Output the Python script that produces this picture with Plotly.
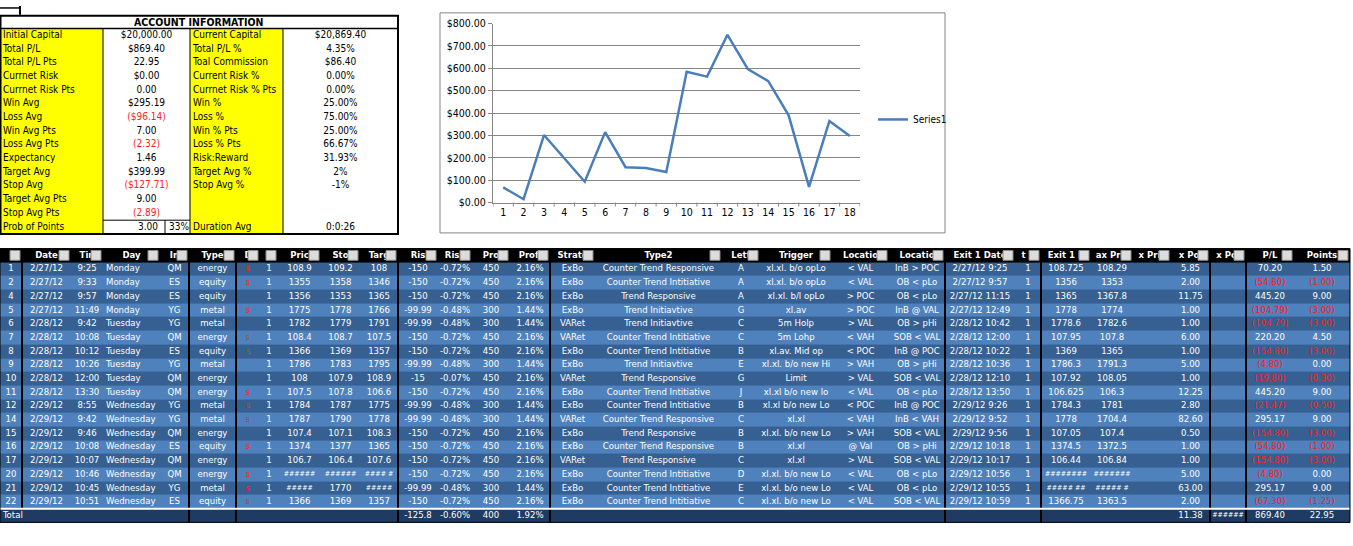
import plotly.graph_objects as go

W, H = 1353, 546
def px(x): return x / W
def py(y): return 1 - y / H

FONT = "DejaVu Sans Condensed, Liberation Sans Narrow, Liberation Sans, Arial"

# ---------------- account info data ----------------
acc_labels1 = ["Initial Capital", "Total P/L", "Total P/L Pts", "Currnet Risk", "Currnet Risk Pts",
               "Win Avg", "Loss Avg", "Win Avg Pts", "Loss Avg Pts", "Expectancy", "Target Avg",
               "Stop Avg", "Target Avg Pts", "Stop Avg Pts", "Prob of Points"]
acc_values1 = ["$20,000.00", "$869.40", "22.95", "$0.00", "0.00", "$295.19", "($96.14)", "7.00",
               "(2.32)", "1.46", "$399.99", "($127.71)", "9.00", "(2.89)", "3.00"]
acc_labels2 = ["Current Capital", "Total P/L %", "Toal Commission", "Current Risk %", "Currnet Risk % Pts",
               "Win %", "Loss %", "Win % Pts", "Loss % Pts", "Risk:Reward", "Target Avg %",
               "Stop Avg %", "", "", "Duration Avg"]
acc_values2 = ["$20,869.40", "4.35%", "$86.40", "0.00%", "0.00%", "25.00%", "75.00%", "25.00%",
               "66.67%", "31.93%", "2%", "-1%", "", "", "0:0:26"]
prob_pct = "33%"

# ---------------- chart data ----------------
chart_x = list(range(1, 19))
chart_y = [68, 15, 302, 198, 93, 315, 158, 155, 137, 585, 563, 750, 597, 543, 390, 70, 365, 298]

# ---------------- trade table data ----------------
headers = ["", "Date", "Tin", "Day", "In", "Type", "D", "C", "Pric", "Sto", "Targ", "Ris", "Risk", "Pro",
           "Profi", "Strate", "Type2", "Lett", "Trigger", "Locatio", "Locatio", "Exit 1 Date", "t 1",
           "Exit 1 P", "ax Pric", "x Pric", "x Poi", "x Poi", "P/L", "Points"]

ids = ["1", "2", "4", "5", "6", "7", "8", "9", "10", "11", "12", "14", "15", "16", "17", "20", "21", "22"]
dates = ["2/27/12"]*4 + ["2/28/12"]*6 + ["2/29/12"]*8
times = ["9:25", "9:33", "9:57", "11:49", "9:42", "10:08", "10:12", "10:26", "12:00", "13:30", "8:55",
         "9:42", "9:46", "10:08", "10:07", "10:46", "10:45", "10:51"]
days = ["Monday"]*4 + ["Tuesday"]*6 + ["Wednesday"]*8
ins = ["QM", "ES", "ES", "YG", "YG", "QM", "ES", "YG", "QM", "QM", "YG", "YG", "QM", "ES", "QM", "QM", "YG", "ES"]
types = ["energy", "equity", "equity", "metal", "metal", "energy", "equity", "metal", "energy", "energy",
         "metal", "metal", "energy", "equity", "energy", "energy", "metal", "equity"]
dirs = ["s", "s", "", "s", "", "s", "s", "", "", "s", "s", "s", "", "s", "", "s", "s", "s"]
contracts = ["1"]*18
prices = ["108.9", "1355", "1356", "1775", "1782", "108.4", "1366", "1786", "108", "107.5", "1784", "1787",
          "107.4", "1374", "106.7", "######", "#####", "1366"]
stops = ["109.2", "1358", "1353", "1778", "1779", "108.7", "1369", "1783", "107.9", "107.8", "1787", "1790",
         "107.1", "1377", "106.4", "######", "1770", "1369"]
targets = ["108", "1346", "1365", "1766", "1791", "107.5", "1357", "1795", "108.9", "106.6", "1775", "1778",
           "108.3", "1365", "107.6", "#### #", "#####", "1357"]
risks = ["-150", "-150", "-150", "-99.99", "-99.99", "-150", "-150", "-99.99", "-15", "-150", "-99.99",
         "-99.99", "-150", "-150", "-150", "-150", "-99.99", "-150"]
risk_pct = ["-0.72%", "-0.72%", "-0.72%", "-0.48%", "-0.48%", "-0.72%", "-0.72%", "-0.48%", "-0.07%",
            "-0.72%", "-0.48%", "-0.48%", "-0.72%", "-0.72%", "-0.72%", "-0.72%", "-0.48%", "-0.72%"]
profits = ["450", "450", "450", "300", "300", "450", "450", "300", "450", "450", "300", "300", "450", "450",
           "450", "450", "300", "450"]
profit_pct = ["2.16%", "2.16%", "2.16%", "1.44%", "1.44%", "2.16%", "2.16%", "1.44%", "2.16%", "2.16%",
              "1.44%", "1.44%", "2.16%", "2.16%", "2.16%", "2.16%", "1.44%", "2.16%"]
strategies = ["ExBo", "ExBo", "ExBo", "ExBo", "VARet", "VARet", "ExBo", "ExBo", "VARet", "ExBo", "ExBo",
              "VARet", "ExBo", "ExBo", "VARet", "ExBo", "ExBo", "ExBo"]
type2 = ["Counter Trend Responsive", "Counter Trend Intitiative", "Trend Responsive", "Trend Initiavtive",
         "Trend Initiavtive", "Counter Trend Intitiative", "Counter Trend Intitiative", "Trend Initiavtive",
         "Trend Responsive", "Counter Trend Intitiative", "Counter Trend Intitiative", "Counter Trend Responsive",
         "Trend Responsive", "Counter Trend Responsive", "Trend Responsive", "Counter Trend Intitiative",
         "Counter Trend Intitiative", "Counter Trend Intitiative"]
letters = ["A", "A", "A", "G", "C", "C", "B", "E", "G", "J", "B", "C", "B", "B", "C", "D", "E", "C"]
triggers = ["xl.xl. b/o opLo", "xl.xl. b/o opLo", "xl.xl. b/l opLo", "xl.av", "5m Holp", "5m Lohp",
            "xl.av. Mid op", "xl.xl. b/o new Hi", "Limit", "xl.xl b/o new lo", "xl.xl b/o new Lo", "xl.xl",
            "xl.xl. b/o new Lo", "xl.xl", "xl.xl", "xl.xl. b/o new Lo", "xl.xl. b/o new Lo", "xl.xl. b/o new Lo"]
loc1 = ["< VAL", "< VAL", "> POC", "> POC", "> VAL", "< VAH", "< POC", "> VAH", "> VAL", "< VAL", "< POC",
        "< VAH", "> VAH", "@ Val", "> VAL", "< VAL", "< VAL", "< VAL"]
loc2 = ["InB > POC", "OB < pLo", "OB < pLo", "InB @ VAL", "OB > pHi", "SOB < VAL", "InB @ POC", "OB > pHi",
        "SOB < VAL", "OB < pLo", "InB @ POC", "InB < VAH", "SOB < VAL", "OB > pHi", "SOB < VAL", "OB < pLo",
        "OB < pLo", "SOB < VAL"]
exit_dates = ["2/27/12 9:25", "2/27/12 9:57", "2/27/12 11:15", "2/27/12 12:49", "2/28/12 10:42",
              "2/28/12 12:00", "2/28/12 10:22", "2/28/12 10:36", "2/28/12 12:10", "2/28/12 13:50",
              "2/29/12 9:26", "2/29/12 9:52", "2/29/12 9:56", "2/29/12 10:18", "2/29/12 10:17",
              "2/29/12 10:56", "2/29/12 10:55", "2/29/12 10:59"]
exit_qty = ["1"]*18
exit_prices = ["108.725", "1356", "1365", "1778", "1778.6", "107.95", "1369", "1786.3", "107.92", "106.625",
               "1784.3", "1778", "107.05", "1374.5", "106.44", "########", "##### ##", "1366.75"]
max_prices = ["108.29", "1353", "1367.8", "1774", "1782.6", "107.8", "1365", "1791.3", "108.05", "106.3",
              "1781", "1704.4", "107.4", "1372.5", "106.84", "#######", "##### #", "1363.5"]
x_prices = [""]*18
max_points = ["5.85", "2.00", "11.75", "1.00", "1.00", "6.00", "1.00", "5.00", "1.00", "12.25", "2.80",
              "82.60", "0.50", "1.00", "1.00", "5.00", "63.00", "2.00"]
x_points = [""]*18
pl = ["70.20", "(54.80)", "445.20", "(104.79)", "(104.79)", "220.20", "(154.80)", "(4.80)", "(19.80)",
      "445.20", "(21.47)", "295.17", "(154.80)", "(54.80)", "(154.80)", "(4.80)", "295.17", "(67.30)"]
points = ["1.50", "(1.00)", "9.00", "(3.00)", "(3.00)", "4.50", "(3.00)", "0.00", "(0.30)", "9.00", "(0.50)",
          "9.00", "(3.00)", "(1.00)", "(3.00)", "0.00", "9.00", "(1.25)"]
total_row = ["Total", "", "", "", "", "", "", "", "", "", "", "-125.8", "-0.60%", "400", "1.92%", "", "", "",
             "", "", "", "", "", "", "", "", "11.38", "######", "869.40", "22.95"]

columns = [ids, dates, times, days, ins, types, dirs, contracts, prices, stops, targets, risks, risk_pct,
           profits, profit_pct, strategies, type2, letters, triggers, loc1, loc2, exit_dates, exit_qty,
           exit_prices, max_prices, x_prices, max_points, x_points, pl, points]

# ---------------- layout geometry (pixels) ----------------
col_w = [22, 49, 32, 57, 29, 47, 24, 18, 43, 39, 38, 40, 34, 38, 40, 45, 127, 38, 72, 57, 56, 70, 26, 50,
         42, 38, 39, 36, 48, 56]
TX0, TX1 = 0, 1350
scale = (TX1 - TX0) / sum(col_w)
edges = [TX0]
for w in col_w:
    edges.append(edges[-1] + w * scale)
centers = [(edges[i] + edges[i + 1]) / 2 for i in range(len(col_w))]
ROW_H = 14
TY0 = 248
n = len(ids)
nrows = n + 2
y_edges = [TY0 + ROW_H * k for k in range(nrows + 1)]
y_mid = [(y_edges[k] + y_edges[k + 1]) / 2 for k in range(nrows)]

acc_w = [103, 87, 93, 115]
acc_edges = [0]
for w in acc_w:
    acc_edges.append(acc_edges[-1] + w)
AY0 = 23
acc_rows = len(acc_labels1)
acc_y_edges = [AY0 + 14 * k for k in range(acc_rows + 1)]
acc_y_mid = [(acc_y_edges[k] + acc_y_edges[k + 1]) / 2 for k in range(acc_rows)]

palette = ["#000000", "#366092", "#4f81bd", "#1f3b61", "#ffff00", "#ffffff"]
cscale = []
for i, c in enumerate(palette):
    cscale.append([i / len(palette), c])
    cscale.append([(i + 1) / len(palette), c])

z_main = [[0] * len(col_w)]
for i in range(n):
    z_main.append([1 if i % 2 == 0 else 2] * len(col_w))
z_main.append([3] * len(col_w))
z_acc = [[4, 5, 4, 5] for _ in range(acc_rows)]

fig = go.Figure()
fig.add_trace(go.Heatmap(x=edges, y=y_edges, z=z_main, zmin=-0.5, zmax=5.5, colorscale=cscale,
                         showscale=False, hoverinfo="skip", xaxis="x2", yaxis="y2"))
fig.add_trace(go.Heatmap(x=acc_edges, y=acc_y_edges, z=z_acc, zmin=-0.5, zmax=5.5, colorscale=cscale,
                         showscale=False, hoverinfo="skip", xaxis="x2", yaxis="y2"))

tx, ty, tt, tc, tpos, tsz = [], [], [], [], [], []
for ci, col in enumerate(columns):
    vals = [headers[ci]] + list(col) + [total_row[ci]]
    for ri, v in enumerate(vals):
        if v == "":
            continue
        if ri == 0:
            txt = "<b>%s</b>" % v
            color = "white"
        else:
            txt = v
            if ci == 6 and v == "s":
                color = "#ff2020"
            elif ci in (28, 29) and v.startswith("("):
                color = "#ff1a1a"
            else:
                color = "white"
        if (ci == 3 and 0 < ri) or (ci == 0 and ri == nrows - 1):
            tx.append(edges[ci] + 3); tpos.append("middle right")
        else:
            tx.append(centers[ci]); tpos.append("middle center")
        ty.append(y_mid[ri]); tt.append(txt); tc.append(color)
        tsz.append(7 if "#" in v else 9.5)
for pos in ["middle right", "middle center"]:
    idx = [i for i in range(len(tt)) if tpos[i] == pos]
    fig.add_trace(go.Scatter(x=[tx[i] for i in idx], y=[ty[i] for i in idx], text=[tt[i] for i in idx],
                             mode="text", textposition=pos, hoverinfo="skip", showlegend=False,
                             textfont=dict(color=[tc[i] for i in idx], size=[tsz[i] for i in idx],
                                           family=FONT),
                             xaxis="x2", yaxis="y2", cliponaxis=False))

ax_, ay_, at_, ac_, ap_ = [], [], [], [], []
for ci, col in enumerate([acc_labels1, acc_values1, acc_labels2, acc_values2]):
    for ri, v in enumerate(col):
        if v == "":
            continue
        left = ci in (0, 2)
        if ci == 1 and ri == acc_rows - 1:
            xx = 148
        else:
            xx = acc_edges[ci] + 3 if left else (acc_edges[ci] + acc_edges[ci + 1]) / 2
        ax_.append(xx); ay_.append(acc_y_mid[ri]); at_.append(v)
        ac_.append("#ff2020" if v.startswith("(") else "black")
        ap_.append("middle right" if left else "middle center")
ax_.append(179); ay_.append(acc_y_mid[-1]); at_.append(prob_pct); ac_.append("black"); ap_.append("middle center")
for pos in ["middle right", "middle center"]:
    idx = [i for i in range(len(at_)) if ap_[i] == pos]
    fig.add_trace(go.Scatter(x=[ax_[i] for i in idx], y=[ay_[i] for i in idx], text=[at_[i] for i in idx],
                             mode="text", textposition=pos, hoverinfo="skip", showlegend=False,
                             textfont=dict(color=[ac_[i] for i in idx], size=10, family=FONT),
                             xaxis="x2", yaxis="y2", cliponaxis=False))

fig.add_trace(go.Scatter(x=chart_x, y=chart_y, mode="lines", name="Series1",
                         line=dict(color="#4a7ebb", width=2.5)))

fig.update_layout(
    width=W, height=H, margin=dict(l=0, r=0, t=0, b=0),
    paper_bgcolor="white", plot_bgcolor="rgba(0,0,0,0)",
    font=dict(family=FONT, size=10, color="black"),
    showlegend=True, hovermode=False,
    legend=dict(x=px(873), y=py(116), xanchor="left", yanchor="middle", bgcolor="rgba(0,0,0,0)",
                font=dict(size=10, family=FONT)),
    xaxis=dict(domain=[px(493), px(860)], range=[0.5, 18.5], tickmode="array", tickvals=chart_x,
               ticktext=[str(v) for v in chart_x], showgrid=False, zeroline=False,
               showline=True, linecolor="#868686", ticks="", tickfont=dict(size=10.5),
               fixedrange=True),
    yaxis=dict(domain=[py(201), py(18)], range=[0, 800], dtick=100, tickprefix="$", tickformat=",.2f",
               showgrid=True, gridcolor="#868686", gridwidth=1, zeroline=False, showline=True,
               linecolor="#868686", ticks="outside", ticklen=4, tickcolor="#868686",
               tickfont=dict(size=10.5), fixedrange=True),
    xaxis2=dict(domain=[0, 1], range=[0, W], visible=False, fixedrange=True),
    yaxis2=dict(domain=[0, 1], range=[H, 0], visible=False, fixedrange=True),
)

shapes = []
def pline(x0, y0, x1, y1, color="black", width=1):
    shapes.append(dict(type="line", xref="x2", yref="y2", x0=x0, y0=y0, x1=x1, y1=y1,
                       line=dict(color=color, width=width)))
shapes.append(dict(type="rect", xref="x2", yref="y2", x0=440, x1=945, y0=7, y1=232,
                   line=dict(color="#868686", width=1)))
for k in range(19):
    xv = 0.5 + k
    shapes.append(dict(type="line", xref="x", yref="paper", x0=xv, x1=xv, y0=py(201), y1=py(205),
                       line=dict(color="#868686", width=1)))
shapes.append(dict(type="rect", xref="x2", yref="y2", x0=0.5, x1=398, y0=10, y1=acc_y_edges[-1],
                   line=dict(color="black", width=2)))
pline(0, AY0, 398, AY0, width=1.5)
for e in acc_edges[1:-1]:
    pline(e, AY0, e, acc_y_edges[-1])
pline(acc_edges[1], acc_y_edges[-2], acc_edges[2], acc_y_edges[-2])
pline(165, acc_y_edges[-2], 165, acc_y_edges[-1])
pline(0, 2, 20, 2, width=1.5)
pline(20, 0, 20, 9, width=2)
for i in range(len(col_w)):
    r = edges[i + 1] - 2
    shapes.append(dict(type="rect", xref="x2", yref="y2", x0=r - 10, x1=r, y0=250, y1=260,
                       fillcolor="#dcdcdc", line=dict(color="#8a8a8a", width=1)))
for ci in [1, 5, 6, 11, 15, 21, 23, 27, 28]:
    bottom = y_edges[-2] if ci == 1 else y_edges[-1]
    pline(edges[ci], y_edges[0], edges[ci], bottom, width=2)
pline(0, y_edges[-2], TX1, y_edges[-2], color="white", width=2)
shapes.append(dict(type="rect", xref="x2", yref="y2", x0=0, x1=TX1, y0=y_edges[0], y1=y_edges[-1],
                   line=dict(color="black", width=1)))
fig.update_layout(shapes=shapes)

fig.update_layout(annotations=[
    dict(text="<b>ACCOUNT INFORMATION</b>", x=199, y=16.5, xref="x2", yref="y2",
         showarrow=False, font=dict(size=10.5, family=FONT, color="black"), xanchor="center", yanchor="middle"),
])

fig.write_html("out.html", config={"displayModeBar": False, "staticPlot": True},
               post_script="document.body.style.margin='0px';document.body.style.padding='0px';")
